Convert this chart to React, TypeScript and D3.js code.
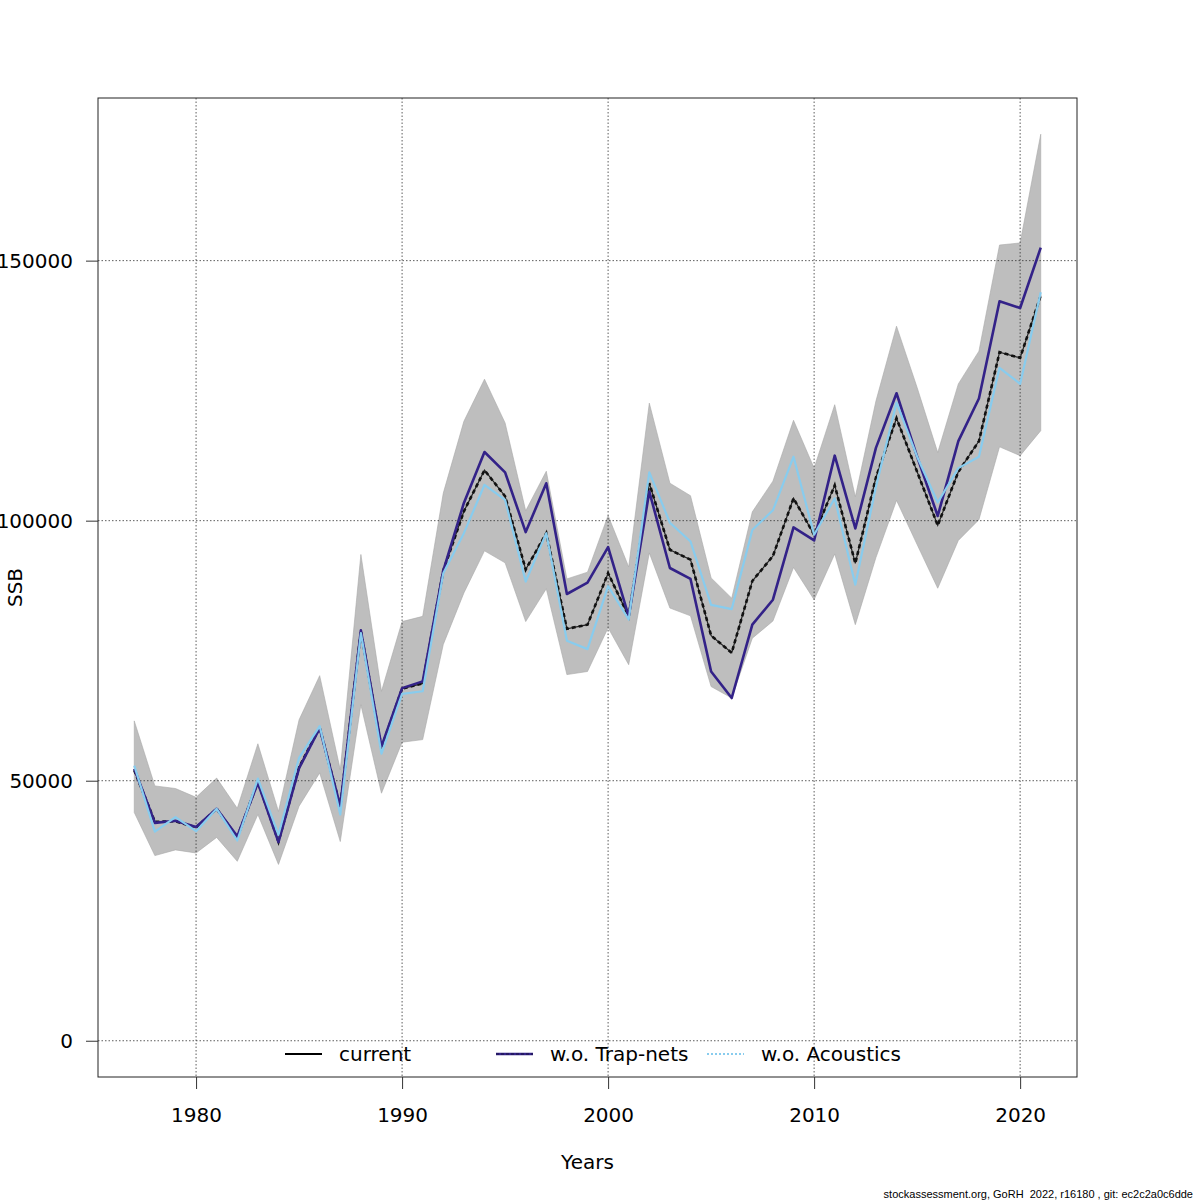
import { useEffect, useRef } from 'react';
import * as d3 from 'd3';

const years = d3.range(1977, 2022);

const upper = [
  61500, 49000, 48500, 46800, 50500, 44700, 57100, 44100, 61700, 70200,
  52100, 93500, 67200, 80600, 81600, 105300, 119100, 127200, 118800, 101900,
  109500, 88800, 90100, 101000, 91100, 122600, 107200, 104800, 89000, 85100,
  101700, 107600, 119300, 110100, 122300, 104600, 123000, 137400, 125600, 113100,
  126300, 132600, 153000, 153400, 174300,
];

const lower = [
  43900, 35600, 36700, 36100, 39100, 34500, 43500, 33900, 45100, 51500,
  38300, 64600, 47600, 57400, 57900, 76200, 86100, 94200, 91900, 80600,
  86900, 70400, 71000, 79400, 72300, 93800, 83200, 81700, 68100, 65900,
  77400, 80700, 91000, 84800, 93600, 80000, 92900, 103900, 95400, 87000,
  96200, 100200, 114200, 112500, 117300,
];

const current = [
  52000, 42100, 42200, 41000, 44600, 39100, 49800, 38300, 52600, 60200,
  45000, 78800, 56300, 67700, 68700, 90400, 101800, 109700, 104700, 90600,
  97600, 79200, 80000, 89900, 81600, 107200, 94400, 92500, 77900, 74600,
  88400, 93200, 104300, 97300, 106800, 91800, 108300, 119700, 109400, 99100,
  109400, 115300, 132400, 131300, 143300,
];

const trapNets = [
  52300, 41900, 42300, 41100, 44600, 39300, 49600, 38200, 52400, 60100,
  45100, 78900, 56600, 67800, 69100, 90400, 103400, 113200, 109300, 97800,
  107200, 85900, 88100, 94900, 81600, 105600, 90900, 88800, 71000, 65900,
  80000, 84800, 98700, 96200, 112500, 98500, 114000, 124500, 112300, 100900,
  115300, 123500, 142200, 140900, 152500,
];

const acoustics = [
  52900, 40200, 43000, 40300, 44600, 38500, 50400, 39600, 54400, 60500,
  43500, 78400, 55200, 66700, 67200, 89900, 97600, 106900, 104000, 88300,
  97600, 76900, 75300, 87400, 81000, 109300, 99600, 96000, 83800, 83000,
  98200, 102000, 112300, 97300, 104300, 87700, 106500, 122700, 112300, 103500,
  110100, 112300, 129400, 126300, 143900,
];

const xTicks = [1980, 1990, 2000, 2010, 2020];
const yTicks = [0, 50000, 100000, 150000];
const legendLabels = ['current', 'w.o. Trap-nets', 'w.o. Acoustics'];
const footer = 'stockassessment.org, GoRH  2022, r16180 , git: ec2c2a0c6dde';

const W = 1200;
const H = 1200;
const FONT = 'DejaVu Sans, sans-serif';
const FS = 20;
const PURPLE = '#332288';
const CYAN = '#88CCEE';

export default function App() {
  const svgRef = useRef<SVGSVGElement>(null);

  useEffect(() => {
    if (!svgRef.current) return;
    const svg = d3.select(svgRef.current);
    svg.selectAll('*').remove();

    const left = 98, right = 1077, top = 98, bottom = 1077;

    // R-style 4% extension of the data range
    const xr = d3.extent(years) as [number, number];
    const xPad = (xr[1] - xr[0]) * 0.04;
    const x = d3.scaleLinear().domain([xr[0] - xPad, xr[1] + xPad]).range([left, right]);
    const yMax = d3.max(upper) as number;
    const yPad = yMax * 0.04;
    const y = d3.scaleLinear().domain([0 - yPad, yMax + yPad]).range([bottom, top]);

    svg.append('rect').attr('width', W).attr('height', H).attr('fill', 'white');

    // confidence band
    const area = d3.area<number>()
      .x((_, i) => x(years[i]))
      .y0((_, i) => y(lower[i]))
      .y1(d => y(d));
    svg.append('path')
      .attr('d', area(upper))
      .attr('fill', '#bebebe')
      .attr('stroke', '#a8a8a8')
      .attr('stroke-width', 0.6);

    // grid
    const grid = svg.append('g')
      .attr('stroke', '#333')
      .attr('stroke-width', 0.8)
      .attr('stroke-dasharray', '1.5,2');
    xTicks.forEach(t => {
      grid.append('line')
        .attr('x1', x(t)).attr('x2', x(t))
        .attr('y1', top).attr('y2', bottom);
    });
    yTicks.forEach(t => {
      grid.append('line')
        .attr('x1', left).attr('x2', right)
        .attr('y1', y(t)).attr('y2', y(t));
    });

    const line = d3.line<number>()
      .x((_, i) => x(years[i]))
      .y(d => y(d));

    // current: thin solid + dashed thick
    svg.append('path').attr('d', line(current))
      .attr('fill', 'none').attr('stroke', '#222').attr('stroke-width', 1.2);
    svg.append('path').attr('d', line(current))
      .attr('fill', 'none').attr('stroke', '#111').attr('stroke-width', 2.6)
      .attr('stroke-dasharray', '4,3');

    svg.append('path').attr('d', line(trapNets))
      .attr('fill', 'none').attr('stroke', PURPLE).attr('stroke-width', 2.6)
      .attr('stroke-linejoin', 'round');
    svg.append('path').attr('d', line(acoustics))
      .attr('fill', 'none').attr('stroke', CYAN).attr('stroke-width', 2.2)
      .attr('stroke-linejoin', 'round');

    // box
    svg.append('rect')
      .attr('x', left).attr('y', top)
      .attr('width', right - left).attr('height', bottom - top)
      .attr('fill', 'none').attr('stroke', '#222').attr('stroke-width', 1);

    // x axis
    const xa = svg.append('g').attr('transform', `translate(0,${bottom})`);
    xa.call(
      d3.axisBottom(x).tickValues(xTicks).tickFormat(d3.format('d')).tickSize(12).tickPadding(19)
    );
    xa.select('.domain').remove();
    xa.selectAll('line').attr('stroke', '#333');
    xa.selectAll('text').attr('font-family', FONT).attr('font-size', FS).attr('fill', '#000');

    // y axis
    const ya = svg.append('g').attr('transform', `translate(${left},0)`);
    ya.call(
      d3.axisLeft(y).tickValues(yTicks).tickFormat(d3.format('d')).tickSize(12).tickPadding(13)
    );
    ya.select('.domain').remove();
    ya.selectAll('line').attr('stroke', '#333');
    ya.selectAll('text').attr('font-family', FONT).attr('font-size', FS).attr('fill', '#000');

    // titles
    svg.append('text')
      .attr('x', (left + right) / 2).attr('y', 1169)
      .attr('text-anchor', 'middle')
      .attr('font-family', FONT).attr('font-size', FS)
      .text('Years');
    svg.append('text')
      .attr('transform', `translate(22,${(top + bottom) / 2}) rotate(-90)`)
      .attr('text-anchor', 'middle')
      .attr('font-family', FONT).attr('font-size', FS)
      .text('SSB');

    // legend
    const ly = 1054;
    const legendX = [285, 496, 707];
    const legendStyles = [
      { color: '#000', dash: null },
      { color: PURPLE, dash: '3,2' },
      { color: CYAN, dash: '2,2' },
    ];
    const lg = svg.append('g');
    legendLabels.forEach((label, i) => {
      const s = legendStyles[i];
      if (i === 1) {
        lg.append('line')
          .attr('x1', legendX[i]).attr('x2', legendX[i] + 37)
          .attr('y1', ly).attr('y2', ly)
          .attr('stroke', PURPLE).attr('stroke-width', 2.6);
      }
      lg.append('line')
        .attr('x1', legendX[i]).attr('x2', legendX[i] + 37)
        .attr('y1', ly).attr('y2', ly)
        .attr('stroke', i === 1 ? '#1a1040' : s.color)
        .attr('stroke-width', i === 1 ? 1.2 : 2.2)
        .attr('stroke-dasharray', s.dash);
      lg.append('text')
        .attr('x', legendX[i] + 54).attr('y', ly)
        .attr('dy', '0.35em')
        .attr('font-family', FONT).attr('font-size', FS)
        .text(label);
    });

    // footer
    svg.append('text')
      .attr('x', 1193).attr('y', 1198)
      .attr('text-anchor', 'end')
      .attr('font-family', 'Liberation Sans, Arial, sans-serif').attr('font-size', 11)
      .style('white-space', 'pre')
      .text(footer);
  }, []);

  return (
    <svg
      ref={svgRef}
      width={W}
      height={H}
      style={{ position: 'absolute', left: 0, top: 0, display: 'block' }}
    />
  );
}
